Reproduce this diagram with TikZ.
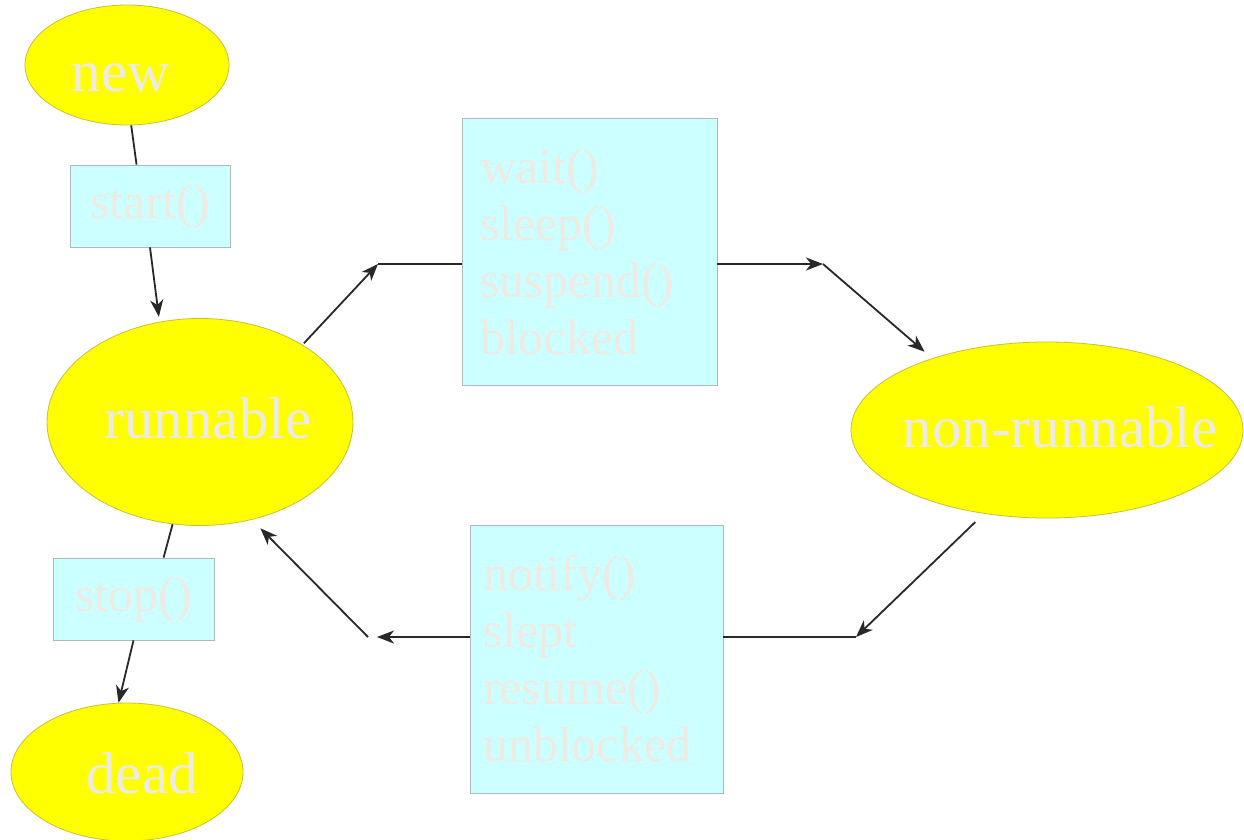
\documentclass[tikz,border=0pt]{standalone}
\usepackage{fontspec}
\setmainfont{Liberation Serif}
\usetikzlibrary{shapes.geometric,arrows.meta,calc}
\definecolor{ellfill}{RGB}{255,255,0}
\definecolor{elldraw}{RGB}{200,190,60}
\definecolor{boxfill}{RGB}{204,255,255}
\definecolor{boxdraw}{RGB}{175,185,185}
\definecolor{txtc}{RGB}{238,234,228}
\definecolor{linec}{RGB}{40,40,40}
\begin{document}
\begin{tikzpicture}[x=1pt,y=-1pt,
  state/.style={ellipse, draw=elldraw, fill=ellfill, line width=0.8pt, inner sep=0pt},
  lbl/.style={text=txtc, font=\fontsize{59}{66}\selectfont, inner sep=0pt},
  method/.style={rectangle, draw=boxdraw, fill=boxfill, line width=0.8pt, text=txtc,
    font=\fontsize{50}{57}\selectfont, inner sep=0pt},
  conn/.style={draw=linec, line width=1.8pt},
  arr/.style={conn, -{Stealth[length=17pt,width=13pt,inset=5pt]}}]
\fill[white] (0,0) rectangle (1244,840);
\useasboundingbox (0,0) rectangle (1244,840);

% states
\node[state, minimum width=204pt, minimum height=120pt] (new) at (127,65) {};
\node[state, minimum width=306pt, minimum height=207pt] (runnable) at (200,422) {};
\node[state, minimum width=392pt, minimum height=176pt] (nonrun) at (1047,430) {};
\node[state, minimum width=232pt, minimum height=138pt] (dead) at (127,772) {};
\node[lbl] (newtxt) at (121,78) {new};
\node[lbl] (runtxt) at (208,418) {runnable};
\node[lbl] (nonruntxt) at (1060,427) {non-runnable};
\node[lbl] (deadtxt) at (142,773) {dead};

% method boxes
\node[method, minimum width=160pt, minimum height=82pt] (start) at (150,206) {start()};
\node[method, minimum width=161pt, minimum height=82pt] (stop) at (133.5,599) {stop()};
\node[method, text width=219pt, inner xsep=18pt, minimum height=267pt, align=left]
  (waitbox) at (589.5,251.5) {wait()\\sleep()\\suspend()\\blocked};
\node[method, text width=227pt, inner xsep=13pt, minimum height=268pt, align=left]
  (notifybox) at (596.5,659) {notify()\\slept\\resume()\\unblocked};

% connectors
\draw[conn] (new.-86) -- (start.108);
\draw[arr, shorten >=5pt] (start.south) -- (runnable.112);

\coordinate (c1) at (378,264);
\draw[arr, shorten <=2pt] (runnable.37) -- (c1);
\draw[conn] (c1) -- (c1 -| waitbox.west);
\coordinate (c2) at (823,264);
\draw[arr] (c2 -| waitbox.east) -- (c2);
\draw[arr, shorten >=10pt] (c2) -- (nonrun.148);

\coordinate (c3) at (856,637);
\draw[arr, shorten <=12pt] (nonrun.-127) -- (c3);
\draw[conn] (c3) -- (c3 -| notifybox.east);
\coordinate (c4) at (377,637);
\draw[arr] (c4 -| notifybox.west) -- (c4);
\coordinate (c5) at (368,637);
\draw[arr, shorten >=12pt] (c5) -- (runnable.-62);

\draw[conn] (runnable.-105) -- (stop.54);
\draw[arr] (stop.south) -- (dead.97);
\end{tikzpicture}
\end{document}
